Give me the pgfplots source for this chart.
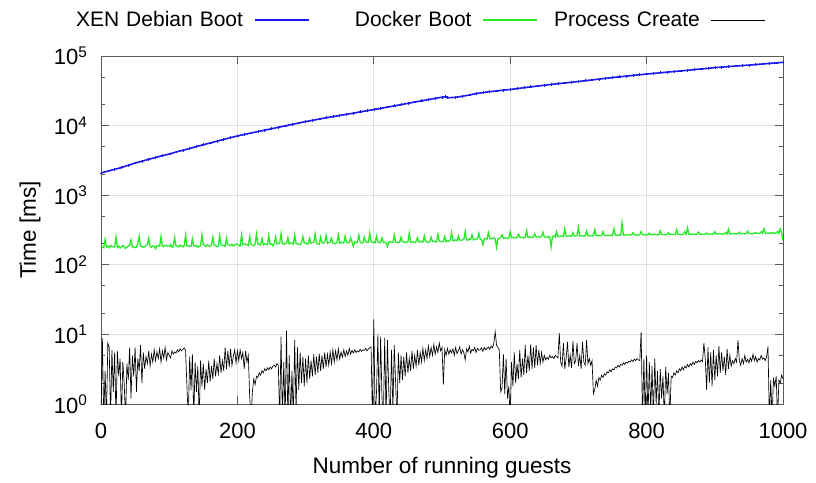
\documentclass[border=0pt]{standalone}
\usepackage{fontspec}
\setmainfont{Liberation Sans}
\usepackage{pgfplots}
\pgfplotsset{compat=1.18}
\definecolor{xenblue}{RGB}{25,25,235}
\definecolor{dockgreen}{RGB}{40,235,40}
\definecolor{axgray}{RGB}{90,90,90}
\begin{document}
\begin{tikzpicture}
\begin{axis}[
 at={(0,0)}, anchor=south west,
 scale only axis, width=682pt, height=348pt,
 xmin=0, xmax=1000, ymode=log, ymin=1, ymax=100000,
 xtick={0,200,400,600,800,1000}, xticklabels={0,200,400,600,800,1000},
 ytick={1,10,100,1000,10000,100000},
 yticklabels={10\textsuperscript{0},10\textsuperscript{1},10\textsuperscript{2},10\textsuperscript{3},10\textsuperscript{4},10\textsuperscript{5}},
 minor ytick={2,5,20,50,200,500,2000,5000,20000,50000},
 tick align=inside, major tick length=8pt, minor tick length=4pt,
 grid=major, major grid style={gray!25, line width=0.8pt},
 axis line style={line width=0.9pt, axgray},
 every tick/.style={axgray, line width=0.8pt},
 tick label style={font=\fontsize{22}{26}\selectfont},
 xticklabel style={yshift=-16pt},
 yticklabel style={xshift=-10pt},
 xlabel={Number of running guests}, ylabel={Time [ms]},
 label style={font=\fontsize{22.5}{27}\selectfont},
 xlabel style={at={(axis description cs:0.5,-0.184)}, anchor=center},
 ylabel style={at={(axis description cs:-0.104,0.5)}, anchor=center},
 legend columns=3, legend plot pos=right,
 legend style={draw=none, fill=none, at={(axis description cs:0,1)}, anchor=west,
   xshift=-31pt, yshift=36pt, inner sep=0pt, outer sep=0pt,
   font=\fontsize{21}{25}\selectfont,
   nodes={text width=173pt, align=right, inner sep=0pt},
   /tikz/every odd column/.style={column sep=11pt},
   /tikz/every even column/.style={column sep=-11pt}},
 legend image code/.code={\draw[#1] (0pt,0pt) -- (54pt,0pt);},
]
\addplot[color=xenblue, line width=1.6pt, mark=+, mark size=1.4pt, mark options={line width=0.6pt}] coordinates {
(0,2090)(10,2220)(20,2350)(30,2500)(40,2690)(50,2900)(60,3080)(70,3280)(80,3480)(90,3690)
(100,3900)(110,4170)(120,4420)(130,4690)(140,5000)(150,5300)(160,5630)(170,5980)(180,6330)(190,6700)
(200,7100)(210,7450)(220,7820)(230,8200)(240,8600)(250,9000)(260,9450)(270,9900)(280,10400)(290,10900)
(300,11400)(310,11900)(320,12400)(330,12950)(340,13450)(350,14000)(360,14550)(370,15100)(380,15750)(390,16350)
(400,17000)(410,17700)(420,18450)(430,19200)(440,20000)(450,20900)(460,21800)(470,22700)(480,23600)(490,24600)
(500,25600)(505,26000)(508,25100)(520,25500)(530,26400)(540,27500)(550,28800)(560,29800)(570,30700)(580,31500)(590,32300)
(600,33000)(610,34000)(620,35000)(630,36000)(640,37000)(650,38000)(660,39000)(670,40000)(680,41000)(690,42000)
(700,43000)(710,44200)(720,45300)(730,46500)(740,47800)(750,49000)(760,50200)(770,51400)(780,52600)(790,53800)
(800,55000)(810,56200)(820,57400)(830,58600)(840,59800)(850,61000)(860,62400)(870,63800)(880,65200)(890,66600)
(900,68000)(910,69200)(920,70400)(930,71600)(940,72800)(950,74000)(960,75400)(970,76800)(980,78200)(990,79600)
(1000,81000)};
\addlegendentry{XEN Debian Boot}
\addplot[color=dockgreen, line width=1.3pt] coordinates {
(0,188)(2,181)(4,176)(6,232)(8,179)(10,185)(12,176)(14,190)(16,183)(18,181)
(20,182)(22,250)(24,178)(26,186)(28,174)(30,180)(32,190)(34,183)(36,172)(38,178)
(40,184)(42,192)(44,228)(46,180)(48,181)(50,176)(52,178)(54,206)(56,258)(58,183)
(60,185)(62,179)(64,181)(66,190)(68,198)(70,242)(72,183)(74,178)(76,187)(78,184)
(80,170)(82,189)(84,187)(86,184)(88,254)(90,186)(92,182)(94,191)(96,189)(98,185)
(100,184)(102,196)(104,178)(106,183)(108,245)(110,187)(112,186)(114,180)(116,192)(118,188)
(120,180)(122,191)(124,265)(126,187)(128,188)(130,183)(132,184)(134,236)(136,190)(138,186)
(140,190)(142,178)(144,185)(146,186)(148,268)(150,196)(152,188)(154,184)(156,193)(158,187)
(160,184)(162,196)(164,250)(166,189)(168,190)(170,182)(172,185)(174,262)(176,194)(178,190)
(180,188)(182,184)(184,241)(186,195)(188,191)(190,189)(192,197)(194,186)(196,193)(198,198)
(200,197)(202,190)(204,186)(206,268)(208,195)(210,199)(212,200)(214,193)(216,190)(218,255)
(220,196)(222,193)(224,188)(226,200)(228,275)(230,197)(232,198)(234,192)(236,240)(238,194)
(240,201)(242,196)(244,195)(246,265)(248,198)(250,201)(252,186)(254,204)(256,250)(258,199)
(260,200)(262,205)(264,280)(266,199)(268,197)(270,203)(272,203)(274,245)(276,199)(278,206)
(280,206)(282,198)(284,270)(286,204)(288,201)(290,197)(292,195)(294,210)(296,255)(298,206)
(300,207)(302,200)(304,200)(306,240)(308,204)(310,209)(312,210)(314,278)(316,203)(318,199)
(320,198)(322,250)(324,208)(326,205)(328,212)(330,265)(332,204)(334,209)(336,210)(338,242)
(340,207)(342,203)(344,200)(346,212)(348,270)(350,205)(352,211)(354,207)(356,206)(358,258)
(360,212)(362,208)(364,208)(366,245)(368,212)(370,183)(372,214)(374,210)(376,210)(378,268)
(380,213)(382,206)(384,207)(386,250)(388,215)(390,211)(392,211)(394,282)(396,214)(398,209)
(400,212)(402,208)(404,258)(406,213)(408,207)(410,211)(412,245)(414,209)(416,212)(418,206)
(420,183)(422,213)(424,214)(426,209)(428,210)(430,268)(432,213)(434,210)(436,207)(438,212)
(440,250)(442,214)(444,215)(446,209)(448,211)(450,213)(452,282)(454,210)(456,214)(458,211)
(460,209)(462,216)(464,245)(466,212)(468,217)(470,214)(472,212)(474,262)(476,216)(478,213)
(480,210)(482,215)(484,250)(486,217)(488,218)(490,213)(492,213)(494,275)(496,220)(498,216)
(500,215)(502,219)(504,255)(506,214)(508,222)(510,218)(512,226)(514,290)(516,221)(518,224)
(520,228)(522,222)(524,260)(526,226)(528,224)(530,229)(532,232)(534,300)(536,228)(538,226)
(540,236)(542,230)(544,270)(546,228)(548,230)(550,234)(552,238)(554,285)(556,233)(558,230)
(560,195)(562,236)(564,240)(566,233)(568,290)(570,238)(572,236)(574,240)(576,244)(578,236)
(580,178)(582,238)(584,240)(586,245)(588,270)(590,240)(592,246)(594,242)(596,238)(598,244)
(600,300)(602,246)(604,248)(606,243)(608,242)(610,247)(612,275)(614,249)(616,250)(618,245)
(620,244)(622,250)(624,310)(626,248)(628,252)(630,246)(632,246)(634,253)(636,280)(638,250)
(640,254)(642,250)(644,248)(646,256)(648,295)(650,252)(652,250)(654,247)(656,256)(658,252)
(660,180)(662,255)(664,262)(666,251)(668,300)(670,256)(672,254)(674,258)(676,260)(678,255)
(680,330)(682,258)(684,256)(686,260)(688,262)(690,257)(692,290)(694,261)(696,258)(698,262)
(700,345)(702,260)(704,262)(706,259)(708,257)(710,263)(712,305)(714,262)(716,264)(718,260)
(720,259)(722,264)(724,320)(726,262)(728,266)(730,261)(732,261)(734,265)(736,300)(738,263)
(740,265)(742,266)(744,262)(746,265)(748,268)(750,264)(752,330)(754,268)(756,264)(758,267)
(760,270)(762,266)(764,400)(766,268)(768,266)(770,270)(772,272)(774,269)(776,268)(778,271)
(780,290)(782,270)(784,270)(786,268)(788,266)(790,272)(792,300)(794,270)(796,272)(798,269)
(800,268)(802,273)(804,285)(806,271)(808,271)(810,270)(812,274)(814,273)(816,269)(818,271)
(820,310)(822,272)(824,273)(826,270)(828,270)(830,274)(832,290)(834,272)(836,275)(838,273)
(840,271)(842,274)(844,320)(846,273)(848,276)(850,272)(852,272)(854,276)(856,300)(858,274)
(860,340)(862,275)(864,274)(866,273)(868,278)(870,276)(872,273)(874,277)(876,295)(878,275)
(880,276)(882,274)(884,272)(886,278)(888,285)(890,275)(892,278)(894,276)(896,274)(898,279)
(900,300)(902,276)(904,277)(906,280)(908,280)(910,278)(912,275)(914,281)(916,290)(918,277)
(920,325)(922,279)(924,278)(926,281)(928,281)(930,279)(932,276)(934,282)(936,295)(938,280)
(940,280)(942,283)(944,277)(946,280)(948,305)(950,282)(952,282)(954,279)(956,279)(958,284)
(960,290)(962,283)(964,284)(966,281)(968,300)(970,285)(972,330)(974,284)(976,281)(978,286)
(980,283)(982,287)(984,290)(986,284)(988,285)(990,288)(992,300)(994,286)(996,330)(998,284)
(1000,225)};
\addlegendentry{Docker Boot}
\addplot[color=black, line width=0.65pt] coordinates {
(0,0.6)(2,8.8)(4,0.6)(6,3.0)(8,0.6)(10,7.5)(12,6.5)(14,0.6)(16,6.0)(18,1.5)
(20,5.5)(22,0.6)(24,5.8)(26,2.5)(28,4.5)(30,0.6)(32,4.0)(34,2.0)(36,0.6)(38,3.8)
(40,2.2)(42,6.5)(44,1.2)(46,5.0)(48,2.5)(50,6.5)(52,1.5)(54,4.5)(56,3.0)(58,7.0)
(60,2.0)(62,5.5)(64,3.2)(66,4.8)(68,3.8)(70,5.8)(72,3.5)(74,5.2)(76,4.0)(78,6.0)
(80,4.2)(82,5.6)(84,4.5)(86,6.2)(88,4.0)(90,5.8)(92,4.6)(94,6.5)(96,4.3)(98,5.5)
(100,5.0)(102,4.6)(104,5.8)(106,5.2)(108,5.6)(110,5.4)(112,6.0)(114,5.6)(116,6.2)(118,5.8)
(120,6.1)(122,6.4)(124,5.9)(126,1.8)(128,0.6)(130,4.8)(132,1.6)(134,5.2)(136,0.6)(138,4.0)
(140,1.5)(142,3.5)(144,0.6)(146,4.2)(148,1.8)(150,3.8)(152,1.6)(154,3.2)(156,2.0)(158,4.2)
(160,2.1)(162,3.5)(164,2.3)(166,4.5)(168,2.5)(170,3.8)(172,2.7)(174,5.0)(176,2.8)(178,4.2)
(180,3.0)(182,6.5)(184,3.2)(186,5.8)(188,3.4)(190,6.2)(192,3.6)(194,4.8)(196,6.0)(198,3.9)
(200,5.8)(202,4.2)(204,6.0)(206,4.5)(208,5.5)(210,3.2)(212,5.8)(214,4.0)(216,5.0)(218,1.3)
(220,0.6)(222,1.5)(224,2.3)(226,1.9)(228,2.5)(230,2.4)(232,2.8)(234,2.6)(236,3.0)(238,2.8)
(240,3.2)(242,3.0)(244,3.3)(246,3.1)(248,3.4)(250,3.2)(252,3.5)(254,3.6)(256,3.4)(258,3.8)
(260,3.6)(262,0.6)(264,9.3)(266,0.6)(268,4.0)(270,0.6)(272,11.3)(274,0.6)(276,5.0)(278,0.6)
(280,3.0)(282,0.6)(284,8.3)(286,0.8)(288,6.5)(290,1.6)(292,5.5)(294,2.0)(296,4.8)(298,1.8)
(300,4.5)(302,2.0)(304,5.0)(306,2.3)(308,4.2)(310,2.5)(312,5.2)(314,2.6)(316,4.8)(318,2.8)
(320,5.3)(322,3.0)(324,5.0)(326,3.2)(328,5.5)(330,3.4)(332,5.2)(334,3.6)(336,5.6)(338,3.8)
(340,6.0)(342,4.0)(344,5.8)(346,4.3)(348,6.2)(350,4.4)(352,5.6)(354,4.7)(356,6.0)(358,4.8)
(360,5.8)(362,5.0)(364,6.3)(366,5.2)(368,5.9)(370,5.4)(372,6.0)(374,5.5)(376,5.8)(378,5.6)
(380,6.1)(382,5.7)(384,6.0)(386,5.9)(388,6.3)(390,5.8)(392,6.2)(394,6.4)(396,6.6)(398,0.6)
(400,16.5)(402,0.6)(404,1.5)(406,10.0)(408,0.6)(410,9.3)(412,1.2)(414,0.6)(416,9.0)(418,0.6)
(420,8.3)(422,1.5)(424,0.6)(426,6.0)(428,0.8)(430,7.0)(432,2.0)(434,0.6)(436,5.5)(438,2.0)
(440,5.0)(442,2.2)(444,4.8)(446,2.5)(448,5.5)(450,2.8)(452,4.5)(454,3.0)(456,5.8)(458,3.2)
(460,5.0)(462,3.5)(464,6.0)(466,3.6)(468,5.5)(470,4.0)(472,6.3)(474,4.2)(476,6.0)(478,4.5)
(480,6.8)(482,4.8)(484,6.5)(486,5.0)(488,7.2)(490,5.2)(492,6.6)(494,5.5)(496,7.5)(498,5.8)
(500,6.5)(502,1.9)(504,6.0)(506,5.0)(508,6.3)(510,5.2)(512,6.0)(514,5.4)(516,6.2)(518,5.0)
(520,6.5)(522,5.3)(524,5.8)(526,6.6)(528,5.2)(530,6.0)(532,5.5)(534,4.3)(536,6.2)(538,5.6)
(540,6.8)(542,5.4)(544,6.1)(546,5.8)(548,6.5)(550,5.5)(552,6.3)(554,5.9)(556,6.0)(558,6.4)
(560,5.7)(562,6.5)(564,6.0)(566,6.3)(568,6.6)(570,6.1)(572,6.8)(574,6.4)(576,7.5)(578,10.9)
(580,7.0)(582,6.5)(584,6.0)(586,1.5)(588,1.7)(590,5.2)(592,1.4)(594,4.5)(596,1.2)(598,1.8)
(600,0.6)(602,4.0)(604,1.8)(606,5.5)(608,2.0)(610,3.8)(612,2.3)(614,6.0)(616,2.4)(618,4.5)
(620,2.6)(622,7.0)(624,2.8)(626,5.0)(628,3.0)(630,7.2)(632,3.2)(634,6.5)(636,3.3)(638,7.0)
(640,3.6)(642,6.0)(644,3.8)(646,5.5)(648,4.0)(650,5.0)(652,4.3)(654,4.7)(656,4.4)(658,5.0)
(660,4.6)(662,4.8)(664,4.5)(666,5.0)(668,4.8)(670,4.6)(672,10.4)(674,4.0)(676,3.5)(678,7.5)
(680,3.2)(682,4.5)(684,7.8)(686,3.4)(688,5.0)(690,3.3)(692,8.0)(694,3.8)(696,4.2)(698,7.5)
(700,3.5)(702,5.0)(704,3.2)(706,7.8)(708,4.0)(710,3.6)(712,8.3)(714,3.8)(716,4.5)(718,3.6)
(720,4.2)(722,1.4)(724,1.6)(726,2.2)(728,1.8)(730,2.4)(732,2.2)(734,2.6)(736,2.4)(738,2.7)
(740,2.6)(742,2.9)(744,2.8)(746,3.1)(748,2.9)(750,3.2)(752,3.1)(754,3.4)(756,3.3)(758,3.6)
(760,3.4)(762,3.7)(764,3.6)(766,3.9)(768,3.7)(770,4.0)(772,3.9)(774,4.1)(776,4.0)(778,4.3)
(780,4.1)(782,4.4)(784,4.2)(786,4.5)(788,4.3)(790,4.2)(792,11.0)(794,0.6)(796,4.5)(798,0.6)
(800,5.0)(802,0.6)(804,4.0)(806,0.8)(808,3.5)(810,0.6)(812,4.5)(814,1.0)(816,3.0)(818,0.6)
(820,3.2)(822,1.2)(824,2.5)(826,0.6)(828,3.4)(830,1.4)(832,2.8)(834,0.6)(836,2.5)(838,2.4)
(840,2.8)(842,2.6)(844,3.0)(846,2.8)(848,3.2)(850,3.0)(852,3.4)(854,3.1)(856,3.5)(858,3.3)
(860,3.7)(862,3.4)(864,3.8)(866,3.6)(868,4.0)(870,3.7)(872,4.1)(874,3.9)(876,4.2)(878,4.0)
(880,4.3)(882,4.1)(884,7.5)(886,4.5)(888,1.6)(890,6.5)(892,2.0)(894,5.5)(896,1.8)(898,6.0)
(900,2.2)(902,5.0)(904,2.5)(906,6.8)(908,2.8)(910,5.5)(912,3.0)(914,4.8)(916,2.6)(918,6.2)
(920,3.2)(922,5.0)(924,3.5)(926,4.2)(928,3.8)(930,4.5)(932,4.0)(934,8.3)(936,4.2)(938,3.6)
(940,4.5)(942,3.8)(944,5.0)(946,4.0)(948,4.4)(950,3.9)(952,4.6)(954,4.1)(956,5.2)(958,4.2)
(960,4.8)(962,4.0)(964,4.5)(966,4.3)(968,5.0)(970,4.4)(972,4.6)(974,4.2)(976,4.8)(978,6.7)
(980,0.6)(982,2.2)(984,0.6)(986,2.4)(988,1.8)(990,2.5)(992,0.6)(994,2.2)(996,2.0)(998,2.6)
(1000,2.3)};
\addlegendentry{Process Create}
\end{axis}
\pgfresetboundingbox
\path[use as bounding box] (-101pt,-78pt) rectangle (715pt,404pt);
\end{tikzpicture}
\end{document}
